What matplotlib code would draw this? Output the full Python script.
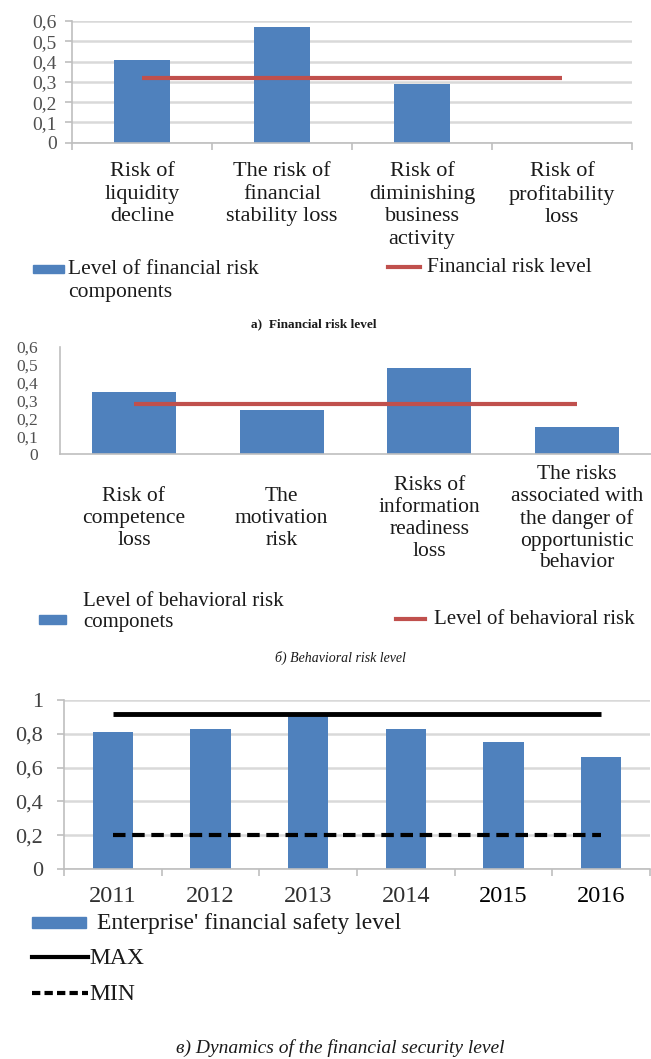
import numpy as np
import matplotlib
matplotlib.use('Agg')
import matplotlib.pyplot as plt
from matplotlib.patches import Rectangle
from matplotlib.lines import Line2D

plt.rcParams['font.family'] = ['Liberation Serif', 'DejaVu Serif']

# а) уровень финансового риска
fin_labels = ['Risk of\nliquidity\ndecline', 'The risk of\nfinancial\nstability loss',
              'Risk of\ndiminishing\nbusiness\nactivity', 'Risk of\nprofitability\nloss']
fin_values = [0.41, 0.57, 0.29, 0.0]
fin_level = 0.32
fin_ticks = [0, 0.1, 0.2, 0.3, 0.4, 0.5, 0.6]

# б) уровень поведенческого риска
beh_labels = ['Risk of\ncompetence\nloss', 'The\nmotivation\nrisk',
              'Risks of\ninformation\nreadiness\nloss',
              'The risks\nassociated with\nthe danger of\nopportunistic\nbehavior']
beh_values = [0.35, 0.25, 0.48, 0.15]
beh_level = 0.28
beh_ticks = [0, 0.1, 0.2, 0.3, 0.4, 0.5, 0.6]

# в) динамика уровня финансовой безопасности
years = ['2011', '2012', '2013', '2014', '2015', '2016']
safety = [0.81, 0.83, 0.92, 0.83, 0.75, 0.66]
safety_max = 0.92
safety_min = 0.20
safety_ticks = [0, 0.2, 0.4, 0.6, 0.8, 1.0]

BLUE = '#4f81bd'
RED = '#c0504d'
GRID = '#d9d9d9'
AXIS = '#bfbfbf'
TXT = '#1a1a1a'

W, H = 651, 1059
fig = plt.figure(figsize=(W / 100, H / 100), dpi=100)


def box(x0, y0, x1, y1):
    # пиксели -> доли фигуры
    return [x0 / W, 1 - y1 / H, (x1 - x0) / W, (y1 - y0) / H]


def fx(x):
    return x / W


def fy(y):
    return 1 - y / H


def comma(v):
    return ('%g' % v).replace('.', ',')


def style_axes(ax, n, grid=True, ticks=True):
    for s in ['top', 'right']:
        ax.spines[s].set_visible(False)
    ax.spines['left'].set_color(AXIS)
    ax.spines['bottom'].set_color(AXIS)
    ax.spines['left'].set_linewidth(1.2)
    ax.spines['bottom'].set_linewidth(1.2)
    ax.set_xlim(-0.5, n - 0.5)
    if grid:
        ax.yaxis.grid(True, color=GRID, linewidth=1.8)
        ax.set_axisbelow(True)
    ax.tick_params(axis='x', which='major', length=0)
    if ticks:
        ax.set_xticks(np.arange(-0.5, n, 1), minor=True)
        ax.tick_params(axis='x', which='minor', length=5, color=AXIS, width=1.2)
        ax.tick_params(axis='y', length=5, color=AXIS, width=1.2)
    else:
        ax.tick_params(axis='y', length=0)


# ---- а) ----
ax1 = fig.add_axes(box(72, 21, 632, 142.7))
x1 = np.arange(len(fin_values))
ax1.bar(x1, fin_values, width=0.4, color=BLUE)
ax1.plot(x1, [fin_level] * len(x1), color=RED, linewidth=3, solid_capstyle='butt')
ax1.set_ylim(0, 0.6)
style_axes(ax1, len(x1))
ax1.set_yticks(fin_ticks, [comma(t) for t in fin_ticks], fontsize=14, color='#505050')
ax1.tick_params(axis='y', pad=6)
ax1.set_xticks(x1, fin_labels, fontsize=16, color=TXT, linespacing=1.25)
ax1.tick_params(axis='x', which='major', pad=14)

fig.add_artist(Rectangle((fx(33), fy(273)), fx(64) - fx(33), fy(265) - fy(273), color=BLUE))
fig.text(fx(68), fy(281), 'Level of financial risk\ncomponents', fontsize=15.5,
         color=TXT, va='center', ha='left', linespacing=1.28)
fig.add_artist(Line2D([fx(388), fx(420)], [fy(267), fy(267)], color=RED, linewidth=3))
fig.text(fx(427), fy(268), 'Financial risk level', fontsize=15.5, color=TXT,
         va='center', ha='left')
fig.text(fx(314), fy(324), 'a)  Financial risk level', fontsize=9.5, color=TXT,
         ha='center', va='center', weight='bold')

# ---- б) ----
ax2 = fig.add_axes(box(60, 347, 651, 454.3))
x2 = np.arange(len(beh_values))
ax2.bar(x2, beh_values, width=0.57, color=BLUE)
ax2.plot(x2, [beh_level] * len(x2), color=RED, linewidth=3, solid_capstyle='butt')
ax2.set_ylim(0, 0.6)
style_axes(ax2, len(x2), grid=False, ticks=False)
ax2.set_yticks(beh_ticks, [comma(t) for t in beh_ticks], fontsize=12.5, color='#505050')
ax2.tick_params(axis='y', pad=16)
ax2.set_xticks(x2, [''] * len(x2))
for i, lab in enumerate(beh_labels):
    ax2.text(i, -0.6, lab, transform=ax2.get_xaxis_transform(), ha='center',
             va='center', fontsize=15.5, color=TXT, linespacing=1.2)

fig.add_artist(Rectangle((fx(39), fy(624)), fx(66) - fx(39), fy(615) - fy(624), color=BLUE))
fig.text(fx(83), fy(612), 'Level of behavioral risk\ncomponets', fontsize=15,
         color=TXT, va='center', ha='left', linespacing=1.2)
fig.add_artist(Line2D([fx(396), fx(425)], [fy(619), fy(619)], color=RED, linewidth=3))
fig.text(fx(434), fy(619), 'Level of behavioral risk', fontsize=15, color=TXT,
         va='center', ha='left')
fig.text(fx(340), fy(658), 'б) Behavioral risk level', fontsize=10, color=TXT,
         ha='center', va='center', style='italic')

# ---- в) ----
ax3 = fig.add_axes(box(64, 700, 650, 869))
x3 = np.arange(len(safety))
ax3.bar(x3, safety, width=0.41, color=BLUE)
ax3.plot(x3, [safety_max] * len(x3), color='black', linewidth=3.5, solid_capstyle='butt')
ax3.plot(x3, [safety_min] * len(x3), color='black', linewidth=3, linestyle=(0, (3, 1.6)))
ax3.set_ylim(0, 1)
style_axes(ax3, len(x3))
ax3.set_yticks(safety_ticks, [comma(t) for t in safety_ticks], fontsize=16, color='#404040')
ax3.tick_params(axis='y', pad=10)
ax3.set_xticks(x3, years, fontsize=17.5, color='#303030')
ax3.tick_params(axis='x', which='major', pad=12)
for t in ax3.get_xticklabels()[4:]:
    t.set_color('black')

fig.add_artist(Rectangle((fx(32), fy(928)), fx(86) - fx(32), fy(917) - fy(928), color=BLUE))
fig.text(fx(97), fy(923), "Enterprise' financial safety level", fontsize=17,
         color=TXT, va='center', ha='left')
fig.add_artist(Line2D([fx(32), fx(88)], [fy(957), fy(957)], color='black', linewidth=3))
fig.text(fx(89), fy(958), 'MAX', fontsize=17, color=TXT, va='center', ha='left')
fig.add_artist(Line2D([fx(32), fx(88)], [fy(993), fy(993)], color='black', linewidth=3,
                      linestyle=(0, (2, 1))))
fig.text(fx(89), fy(994), 'MIN', fontsize=17, color=TXT, va='center', ha='left')
fig.text(fx(340), fy(1048), 'в) Dynamics of the financial security level', fontsize=14,
         color=TXT, ha='center', va='center', style='italic')

fig.savefig('out.png', dpi=100)
